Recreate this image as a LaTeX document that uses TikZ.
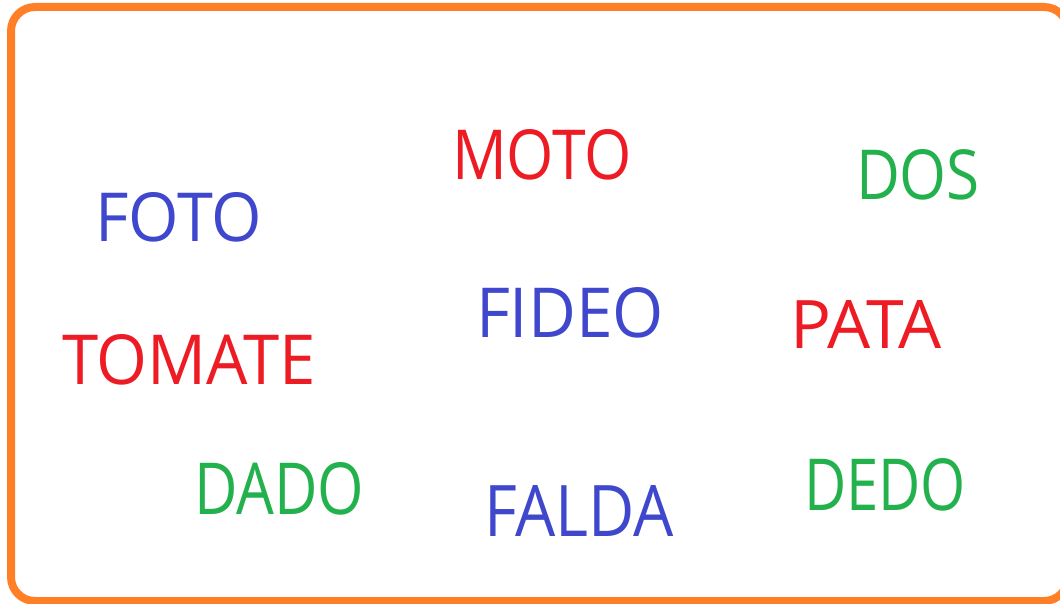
\documentclass[tikz,border=0pt]{standalone}
\usepackage{fontspec}
\setmainfont{Open Sans}
\usepackage{graphicx}
\definecolor{frameorange}{HTML}{FF7F27}
\definecolor{wred}{HTML}{ED1C24}
\definecolor{wblue}{HTML}{3F48CC}
\definecolor{wgreen}{HTML}{22B14C}
\tikzset{
  word/.style={anchor=base west, inner sep=0pt, outer sep=0pt},
}
\newcommand{\wordbox}[3]{\resizebox{#1pt}{#2pt}{#3}}
\begin{document}
\begin{tikzpicture}[x=1pt,y=-1pt]
\useasboundingbox (0,0) rectangle (1060,604);
\begin{scope}
\clip (0,0) rectangle (1060,604);
\draw[frameorange, line width=8pt, rounded corners=24pt] (11,7) rectangle (1068,601);
\end{scope}
\node[word, text=wred]   (moto)   at (452,180) {\wordbox{180}{50}{MOTO}};
\node[word, text=wgreen] (dos)    at (856,200) {\wordbox{124}{50}{DOS}};
\node[word, text=wblue]  (foto)   at (95,241)  {\wordbox{167}{49}{FOTO}};
\node[word, text=wblue]  (fideo)  at (476,337) {\wordbox{188}{50}{FIDEO}};
\node[word, text=wred]   (pata)   at (790,348) {\wordbox{152}{48}{PATA}};
\node[word, text=wred]   (tomate) at (62,384)  {\wordbox{254}{50}{TOMATE}};
\node[word, text=wgreen] (dado)   at (194,514) {\wordbox{170}{52}{DADO}};
\node[word, text=wblue]  (falda)  at (484,536) {\wordbox{190}{51}{FALDA}};
\node[word, text=wgreen] (dedo)   at (804,510) {\wordbox{162}{52}{DEDO}};
\end{tikzpicture}
\end{document}
